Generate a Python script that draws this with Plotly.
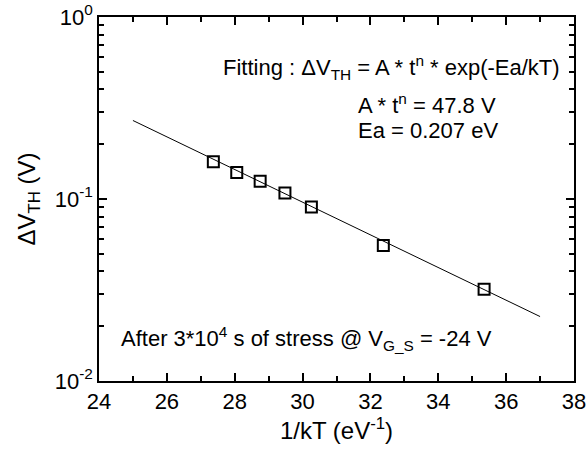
import plotly.graph_objects as go

inv_kT = [27.37, 28.06, 28.75, 29.48, 30.26, 32.38, 35.35]
dVth = [0.160, 0.140, 0.125, 0.108, 0.0904, 0.0556, 0.0319]
fit_x = [25.0, 37.0]
fit_y = [0.270, 0.0226]

FONT = "Liberation Sans, Arial, sans-serif"

fig = go.Figure()
fig.add_trace(go.Scatter(x=fit_x, y=fit_y, mode="lines",
                         line=dict(color="black", width=1), showlegend=False))
fig.add_trace(go.Scatter(x=inv_kT, y=dVth, mode="markers",
                         marker=dict(symbol="square-open", size=11, color="black",
                                     line=dict(width=2, color="black")),
                         showlegend=False))

axis_common = dict(showline=True, linecolor="black", linewidth=1.5, mirror="allticks",
                   ticks="inside", ticklen=8, tickwidth=1.5, tickcolor="black",
                   showgrid=False, zeroline=False, automargin=False,
                   tickfont=dict(family=FONT, size=22, color="black"))

fig.update_xaxes(range=[24, 38], tickmode="array", tickvals=[24, 26, 28, 30, 32, 34, 36, 38],
                 minor=dict(tickmode="array", tickvals=[25, 27, 29, 31, 33, 35, 37],
                            ticks="inside", ticklen=5, tickwidth=1.5, tickcolor="black"),
                 title=dict(text="1/kT (eV<sup>-1</sup>)", font=dict(family=FONT, size=24, color="black"),
                            standoff=2),
                 **axis_common)
minor_y = [k * 10 ** e for e in (-2, -1) for k in range(2, 10)]
fig.update_yaxes(type="log", range=[-2, 0], tickmode="array", tickvals=[0.01, 0.1, 1],
                 ticktext=["10<sup>-2</sup>", "10<sup>-1</sup>", "10<sup>0</sup>"],
                 minor=dict(tickmode="array", tickvals=minor_y,
                            ticks="inside", ticklen=5, tickwidth=1.5, tickcolor="black"),
                 title=dict(text="ΔV<sub>TH</sub> (V)", font=dict(family=FONT, size=24, color="black"),
                            standoff=12),
                 **axis_common)

ann_font = dict(family=FONT, size=22, color="black")
fig.add_annotation(x=0.975, y=0.862, xref="paper", yref="paper", xanchor="right", yanchor="middle",
                   text="Fitting : ΔV<sub>TH</sub> = A * t<sup>n</sup> * exp(-Ea/kT)",
                   showarrow=False, font=ann_font)
fig.add_annotation(x=0.541, y=0.760, xref="paper", yref="paper", xanchor="left", yanchor="middle",
                   text="A * t<sup>n</sup> = 47.8 V", showarrow=False, font=ann_font)
fig.add_annotation(x=0.541, y=0.689, xref="paper", yref="paper", xanchor="left", yanchor="middle",
                   text="Ea = 0.207 eV", showarrow=False, font=ann_font)
fig.add_annotation(x=0.043, y=0.118, xref="paper", yref="paper", xanchor="left", yanchor="middle",
                   text="After 3*10<sup>4</sup> s of stress @ V<sub>G_S</sub> = -24 V",
                   showarrow=False, font=ann_font)

fig.update_layout(width=587, height=450, margin=dict(l=99, r=13, t=17, b=69),
                  paper_bgcolor="white", plot_bgcolor="white",
                  font=dict(family=FONT, color="black"))
fig.write_html("out.html", config={"displayModeBar": False},
               post_script="document.body.style.margin='0';document.body.style.overflow='hidden';")
